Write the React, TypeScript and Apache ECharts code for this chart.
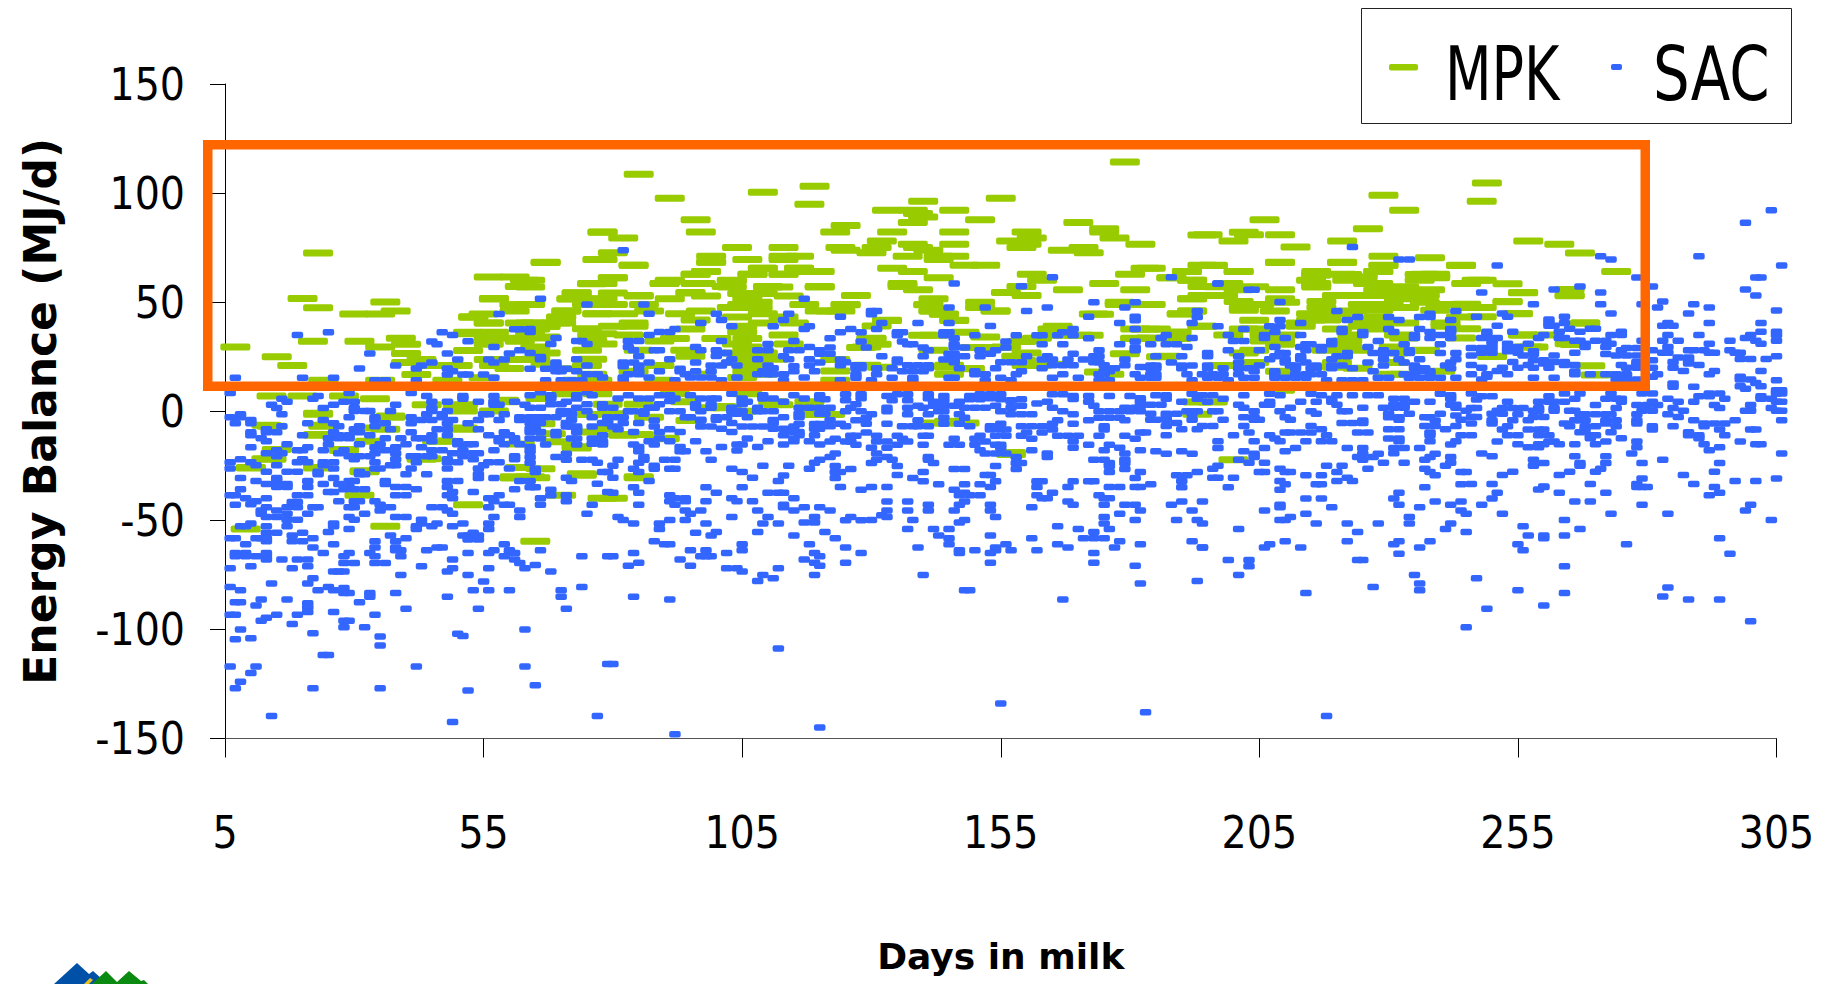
import React, { useEffect, useRef } from "react";
import * as echarts from "echarts";

const xTicks = [5, 55, 105, 155, 205, 255, 305];
const MPK_NAME = "MPK";
const SAC_NAME = "SAC";

const mpkLeft = [[20,51.7],[23,47.4],[36,50.1],[30,44.6],[35,44.6],[38,46],[57,51.7],[61,48.8],[61,46],[53,43.3],[55,44.6],[56,40.5],[62,40.5],[22,32.1],[31,32.1],[39,33.5],[35,29.4],[40,30.7],[7,29.4],[15,25],[18,21],[40,26.5],[52,27.8],[52,36.2],[57,36.2],[61,33.5],[56,33.5],[56,30.7],[62,32.1],[43,23.7],[40,22.3],[45,21],[50,21],[57,21],[60,19.6],[56,23.7],[42,16.8],[35,14.2],[24,14.2],[48,14.2],[55,15.4],[62,23.7],[14,7],[20,7],[28,7],[34,5.7],[44,3],[51,3],[59,4.3],[51,0.1],[23,-1.4],[57,0.1],[37,-2.8],[14,-6.9],[24,-6.9],[36,-8.3],[51,-8.3],[23,-11],[33,-13.8],[47,-13.8],[28,-18],[14,-22],[43,-22],[10,-26],[23,-26],[32,-27.7],[61,-30.6],[59,5],[23,72.5],[67,68.2],[56,61.5],[61,61.5],[63,60],[62,57.2],[78,82.1],[77,69.6],[76,58.4],[73,54.3],[72,51.5],[57,51.5],[61,48.8],[71,46],[70,43.1],[53,43.1],[56,40.4],[77,44.7],[75,51.5],[64,40.4],[67,38.8],[70,40.4],[52,35.5],[56,35.5],[75,37.8],[78,35.5],[64,35.5],[67,34],[23,-0.9],[37,-2.2],[50,2.2],[13,-6.4],[24,-6.4],[23,-10.7],[33,-7.7],[46,-13.6],[51,-7.7],[62,-15],[73,-16.3],[15,-17.5],[28,-17.5],[13,-21.8],[44,-21.8],[10,-25.8],[23,-25.8],[32,-27.3],[62,-25.8],[61,-30],[64,-30],[74,-28.7],[31,-38.5],[70,-38.5],[52,-42.8],[36,-52.7],[9,-54],[65,-59.6],[78,-39.9]];

const mpkMiddle = [[67,68.3],[84,66.9],[99,68.3],[109,65.5],[116,65.5],[98,64.1],[96,62.8],[107,62.8],[113,62.8],[118,64.1],[80,61.2],[91,59.7],[64,60],[76,58.5],[90,58.5],[97,58.5],[103,59.7],[103,57],[110,57],[120,57],[112,57],[64,57],[73,54.2],[80,54.2],[95,54.2],[105,54],[109,54],[72,51.6],[78,51.6],[85,52.8],[91,51.6],[98,52.8],[106,51.6],[114,52.8],[75,48.9],[80,48.9],[86,48.9],[105,48.9],[108,50],[117,48.9],[64,48.9],[71,46],[77,44.7],[82,44.7],[87,46],[93,44.7],[103,47.5],[108,47.5],[97,46],[120,46],[70,43.2],[65,40.5],[69,40.5],[84,40.5],[96,41.8],[104,43.2],[109,44.7],[113,43.2],[80,39],[84,39],[95,37.7],[65,37.7],[105,39],[109,40.5],[115,40.5],[76,35],[83,35],[92,33.4],[100,33.4],[105,36.3],[106,33.4],[113,35],[65,33.6],[76,32.2],[78,30.8],[89,32.2],[104,30.8],[106,29.4],[114,30.8],[67,26.7],[65,29.4],[75,28],[85,28],[94,28],[104,26.7],[109,26.7],[95,25.2],[76,23.8],[106,23.8],[111,23.8],[65,23.8],[67,21.5],[75,21],[89,21],[104,22.4],[107,21],[71,19.5],[84,18.3],[106,18.3],[109,17],[76,17],[89,14.2],[73,14.2],[77,14.2],[105,15.5],[97,17],[71,8],[77,8],[92,8],[106,8],[66,5.9],[118,4.4],[111,4.4],[85,3.2],[79,3.2],[94,4.4],[98,1.6],[102,1.6],[105,0],[75,-1.5],[119,-1.5],[66,-5.7],[80,-1.1],[87,-2.7],[95,-4.2],[78,-8],[75,-9.5],[68,-10.3],[82,-11],[90,-12.6],[69,-14],[73,-16.9],[66,-26.4],[74,-29.3],[85,-30.5],[65,-30.5],[80,-39.9],[85,-30],[82,-10.7],[85,-10.7],[90,-12.4],[101,2.2],[112,3],[119,-0.9]];

const mpkCentre = [[179,114.3],[85,108.6],[119,103.1],[109,100.4],[91,97.6],[118,94.9],[140,96.2],[155,97.6],[96,87.8],[133,92.1],[138,92.1],[139,90.6],[140,89],[146,92.1],[151,87.8],[138,86.5],[125,85.1],[170,86.5],[78,82.2],[82,79.4],[97,82.2],[123,82.2],[134,82.2],[146,82.2],[160,82.2],[161,79.4],[175,83.7],[175,82.2],[177,79.4],[194,80.8],[132,78],[157,78],[160,76.5],[182,76.5],[159,75.1],[104,75.1],[113,75.1],[124,75.1],[131,75.1],[138,76.5],[146,76.5],[125,73.8],[130,72.6],[139,75.1],[141,73.8],[167,73.8],[171,75.1],[172,72.6],[137,71],[143,71],[146,71],[99,71],[113,71],[116,71],[106,69.6],[99,68.3],[143,69.6],[113,69.6],[78,69.6],[80,72.6],[84,66.9],[109,65.5],[116,65.5],[134,65.5],[148,66.9],[152,66.9],[183,65.5],[194,66.9],[98,64.1],[120,64.1],[138,64.1],[191,64.1],[96,62.8],[107,62.8],[113,62.8],[161,62.8],[180,62.8],[80,61.2],[143,61.2],[91,60],[103,60],[163,60],[188,61.2],[192,60],[90,58.5],[96,58.5],[78,58.5],[102,57.2],[110,57.2],[120,57.2],[136,58.5],[136,57.2],[159,57.2],[175,58.5],[194,57.2],[139,55.7],[168,55.7],[181,55.7],[95,54.4],[156,54.4],[194,53],[127,53],[85,53],[142,51.6],[160,53],[151,50],[141,48.9],[125,48.9],[178,48.9],[183,48.9],[192,51.6],[122,46],[142,46],[154,46],[192,46],[173,44.6],[144,44.6],[190,44.6],[133,41.6],[146,41.6],[183,37.6],[166,39],[194,39],[140,34.8],[130,33.4],[152,34],[181,33.4],[189,33.4],[156,29.4],[160,32.4],[170,34.8],[129,29.4],[179,26.4],[186,25],[145,20.2],[160,21],[132,20.2],[149,19.5],[166,21.6],[159,23.3],[125,48.8],[124,46],[141,48.8],[142,46],[144,44.5],[151,47.5],[154,46],[174,44.5],[178,50],[133,41.7],[131,39.1],[146,41.7],[165,37.7],[142,34.8],[148,36.2],[166,34.8],[172,34.8],[181,37.7],[181,33.5],[130,33.5],[131,30.7],[128,29.2],[159,32],[162,33.5],[142,28],[150,29.2],[155,29.2],[160,26.7],[123,23.7],[158,25.2],[129,21.1],[145,21.1],[149,19.6],[162,21.1],[145,17],[174,18],[176,17],[123,18.5],[123,14.2],[145,-5.4],[142,-5.4],[148,-5.4],[157,-19.8],[122,-1.5],[145,-4.6],[157,-18.9]];

const mpkRight = [[184,65.5],[196,66.9],[209,68.3],[221,68.3],[229,66.9],[244,66.9],[191,64.1],[201,64.1],[216,62.8],[228,64.1],[188,61.2],[192,60],[215,60],[221,62.8],[222,60],[237,62.8],[239,62.8],[239,61.2],[216,58.5],[216,57],[236,60],[197,57.1],[199,58.5],[204,57.1],[228,58.5],[226,58.5],[233,57.1],[238,55.7],[209,55.7],[201,55.7],[195,53],[192,51.6],[198,53],[228,55.7],[228,53],[233,54.2],[225,53],[232,51.6],[220,53],[237,53],[237,50],[240,48.9],[209,51.6],[201,50.3],[210,50],[217,50.3],[217,47.5],[202,47.5],[202,46.3],[208,46],[205,48.9],[184,48.9],[225,48.9],[230,48.9],[228,46.3],[233,47.5],[239,46.3],[192,46],[190,44.7],[215,44.7],[220,44.7],[223,46],[228,43.2],[204,41.7],[215,41.8],[218,41.8],[233,40.5],[225,41.8],[228,40.5],[194,39],[213,39],[213,40.5],[220,37.7],[227,37.7],[185,37.7],[189,36.3],[225,39],[241,39],[244,43.2],[202,37.7],[204,37.7],[199,35],[189,33.6],[184,33.6],[206,35],[210,35],[223,35],[232,35],[241,40.5],[206,32.2],[209,32.2],[222,32.2],[233,33.6],[244,33.6],[202,26.7],[204,28],[218,28],[222,29.4],[224,28],[231,29.4],[237,28],[187,25.2],[231,26.7],[209,30.7],[198,21],[220,22.4],[220,20.2],[204,22.4],[231,22.4],[224,19.7],[209,18.3],[240,18.3],[230,17],[233,17],[209,9.6],[193,4.2],[196,4.2],[193,-1.4],[200,-22.2],[249,104.6],[229,99],[248,96.2],[233,92.1],[206,87.8],[226,83.7],[195,80.9],[202,82.1],[203,80.9],[209,80.9],[200,78],[221,78],[212,75.3],[257,78],[263,76.6],[267,72.5],[229,71.1],[238,70.4],[209,68.2],[221,68.2],[196,66.8],[229,66.8],[244,66.8],[274,64.1],[201,64.1],[216,64.1],[228,64.1],[216,62.3],[216,57.6],[222,62.7],[225,61.5],[236,62.7],[239,62.1],[247,60],[253,58.4],[256,54.3],[265,55.8],[265,52.9],[253,50.2],[255,44.7],[268,40.4],[256,34.9],[266,30.6],[257,29.4],[250,25.1],[269,20.8],[237,27.9],[271,16.9],[210,18],[256,54.4],[265,53],[253,50.3],[255,44.8],[268,40.5],[256,35],[261,35],[258,29.5],[265,30.9],[250,25.2],[270,16.6],[245,47.6],[248,47.6],[245,58.6],[248,60],[248,43.3],[245,37.8],[245,49]];

const sacLeftUpper = [[7,15.3],[19,34.9],[25,36.2],[20,15.3],[26,15.3],[31,19.6],[33,26.5],[34,14.2],[36,14.2],[38,21],[42,19.6],[43,21],[45,22.3],[42,14.2],[45,32],[46,30.7],[47,36.2],[49,34.9],[52,32.1],[48,26.5],[50,23.7],[48,19.6],[49,18.3],[48,16.8],[51,16.8],[52,16.8],[55,16.8],[57,15.3],[56,23.7],[57,22.3],[59,23.7],[60,26.5],[62,28],[58,44.6],[57,29.4],[61,37.6],[62,37.6],[6,8.4],[29,8.4],[41,8.4],[44,7],[23,7],[22,5.7],[16,5.7],[17,4.3],[28,4.3],[30,4.3],[14,3],[15,1.5],[26,3],[24,1.5],[30,1.5],[30,0.1],[32,0.1],[33,0.1],[38,3],[37,0.1],[16,-1.4],[8,-1.4],[6,-2.8],[8,-2.8],[7,-5.5],[10,-4],[10,-5.5],[24,-4],[29,-2.8],[34,-2.8],[34,-4],[21,-5.5],[26,-5.5],[27,-6.9],[16,-6.9],[31,-6.9],[30,-8.3],[34,-6.9],[36,-5.5],[41,-2.8],[41,-5.5],[44,-1.4],[47,-1.4],[43,-4],[45,-4],[47,-2.8],[49,-4],[48,-5.5],[54,-4],[52,-5.5],[55,-1.4],[56,-1.4],[59,-1.4],[58,-4],[62,-2.8],[62,-4],[57,7],[57,4.3],[58,3],[57,3],[54,4.3],[51,7],[51,5.7],[48,4.3],[45,4.3],[45,1.5],[45,0.1],[48,0.1],[61,4.3],[63,3]];

const sacLeftLower = [[13,-8.3],[13,-9.6],[15,-9.6],[10,-9.6],[10,-11],[12,-12.4],[13,-13.8],[20,-11],[26,-9.6],[25,-12.4],[27,-12.4],[27,-11],[29,-11],[29,-12.4],[31,-9.6],[33,-11],[36,-12.4],[39,-12.4],[42,-12.4],[43,-12.4],[45,-11],[45,-13.8],[48,-11],[37,-8.3],[41,-9.6],[46,-8.3],[48,-8.3],[54,-8.3],[56,-11],[59,-9.6],[58,-12.4],[60,-11],[61,-12.4],[10,-16.5],[17,-15.1],[21,-16.5],[19,-17.9],[20,-17.9],[15,-17.9],[13,-19.3],[15,-20.6],[16,-19.3],[25,-15.1],[24,-17.9],[28,-17.9],[27,-19.3],[31,-15.1],[34,-16.5],[35,-15.1],[36,-17.9],[38,-16.5],[38,-19.3],[38,-22],[34,-19.3],[33,-20.6],[31,-20.6],[29,-20.6],[30,-22],[40,-15.1],[43,-16.5],[45,-17.9],[47,-17.9],[42,-20.6],[44,-20.6],[45,-20.6],[41,-20.6],[50,-13.8],[50,-15.1],[52,-15.1],[53,-15.1],[51,-17.9],[49,-19.3],[51,-20.6],[53,-19.3],[54,-19.3],[53,-22],[57,-17.9],[58,-13.8],[59,-15.1],[61,-13.8],[62,-15.1],[6,-23.4],[6,-26.2],[8,-22],[10,-23.4],[11,-24.8],[15,-24.8],[19,-23.4],[20,-22],[21,-23.4],[24,-23.4],[26,-23.4],[26,-26.2],[24,-24.8],[34,-23.4],[34,-26.2],[35,-26.2],[38,-24.8],[37,-24.8],[42,-23.4],[41,-26.2],[48,-22],[48,-23.4],[48,-26.2],[50,-23.4],[54,-26.2],[54,-28.9],[54,-30.6],[61,-20.6],[61,-22],[56,-23.4],[55,-24.8],[58,-23.4],[60,-26.2],[13,-27.7],[17,-27.7],[19,-27.7],[23,-27.7],[23,-28.9],[31,-27.7],[31,-28.9],[32,-28.9],[40,-28.9],[44,-28.9],[8,-30.6],[11,-32],[15,-30.6],[15,-32],[13,-33.3],[15,-34.7],[17,-33.3],[17,-34.7],[21,-32],[21,-34.7],[24,-33.3],[26,-30.6],[27,-33.3],[29,-32],[30,-32],[29,-34.7],[36,-32],[36,-33.3],[38,-34.7],[40,-34.7],[48,-32],[50,-32],[48,-34.7],[57,-30.6],[62,-32],[8,-35.8],[28,-35.8],[30,-35.8],[32,-35.8],[42,-35.8],[61,-35.8]];

const sacMiddleUpper = [[66,51.6],[75,48.9],[86,48.9],[87,44.7],[100,44.7],[114,44.7],[117,51.6],[97,40.5],[101,41.8],[103,39],[113,41.8],[111,39],[117,37.7],[118,39],[64,37.7],[64,36.3],[92,37.7],[91,36.3],[89,36.3],[87,35],[69,33.6],[68,30.8],[73,32.2],[74,32.2],[75,30.8],[83,32.2],[85,32.2],[83,29.4],[84,28],[88,28],[89,28],[96,29.4],[97,28],[100,28],[101,26.7],[102,26.7],[100,25.3],[101,32.2],[110,30.8],[115,32.2],[108,28],[110,28],[114,28],[116,28],[118,29.4],[120,28],[120,26.4],[85,25.2],[66,24.9],[66,23.8],[64,26.7],[73,23.8],[91,23.8],[103,23.8],[108,23.8],[113,25.2],[114,23.8],[96,22.4],[82,22.4],[82,20.6],[84,22.4],[85,21],[85,20.6],[87,22.4],[69,22.4],[69,21],[75,21],[99,21],[101,21],[104,21],[102,22.4],[110,21],[111,19.7],[118,23.8],[120,22.4],[118,21],[119,18.3],[115,20.6],[115,18.3],[64,19.5],[67,19.5],[71,19.5],[73,18.3],[69,18.3],[70,18.3],[85,18.3],[89,18.3],[93,19.5],[93,18.3],[96,18.3],[99,18.3],[109,18.3],[111,17],[75,17],[77,17],[78,15.5],[83,17],[82,15.5],[85,17],[87,15.5],[94,17],[95,15.5],[97,15.5],[99,15.5],[104,15.5],[108,17],[110,17],[113,17],[117,15.5],[67,14.2],[70,14.2],[72,14.2],[74,14.2],[82,14.2],[92,14.2],[101,14.2],[113,14.2],[82,73.8]];

const sacMiddleBand = [[64,7.3],[66,8.7],[68,7.3],[68,5.9],[73,7.3],[73,5.9],[75,8.7],[76,7.3],[81,5.9],[83,7.3],[85,5.9],[87,5.9],[89,7.3],[91,7.3],[91,4.7],[92,5.9],[95,7.3],[97,5.9],[99,5.9],[100,5.9],[105,5.9],[105,4.7],[103,8],[109,7.3],[109,5.9],[111,5.9],[113,4.4],[115,7.3],[117,5.9],[120,7.3],[120,5.9],[68,3.2],[70,3.2],[71,4.4],[66,1.6],[64,1.6],[73,1.6],[75,3.2],[75,0],[78,3.2],[78,1.6],[80,1.6],[84,0],[86,0],[87,1.6],[89,3.2],[91,0],[93,0],[96,3.2],[96,1.6],[99,3.2],[99,1.6],[97,0],[103,1.6],[105,3.2],[106,4.4],[103,0],[105,0],[108,1.6],[111,0],[109,0],[116,1.6],[118,1.6],[120,1.6],[71,0],[70,0],[72,-1.3],[70,-1.3],[67,-2.7],[66,-2.7],[64,-2.7],[65,-2.7],[69,-2.7],[72,-3.9],[76,-2.7],[79,-2.7],[79,-3.9],[81,-2.7],[82,-2.7],[83,0],[86,-1.1],[88,1.6],[94,-2.7],[95,-2.7],[97,-3.9],[100,-2.7],[100,-3.9],[102,-2.7],[106,-2.7],[104,-1.1],[108,0],[113,-2.7],[116,-1.1],[116,-2.7],[120,-1.1],[66,-5.4],[64,-5.4],[71,-5.4],[72,-7],[71,-7],[73,-7],[76,-7],[78,-5.4],[79,-5.4],[80,-7],[82,-5.4],[85,-5.4],[88,-4.2],[88,-7],[97,-4.2],[97,-7],[99,-7],[101,-8],[103,-5.4],[103,-9.5],[105,-7],[107,-7],[109,-7],[111,-4],[111,-5.4],[111,-8],[113,-8],[115,-7],[116,-5.8],[119,-5.8],[120,-5.8],[119,-8],[120,-8]];

const sacMiddleLower = [[64,-8],[65,-8],[64,-9.5],[66,-9.5],[64,-12.5],[66,-12.5],[69,-9.5],[69,-11],[73,-8],[73,-9.5],[72,-12.5],[73,-12.5],[78,-11],[81,-8.3],[84,-9.5],[89,-9.5],[91,-8.3],[93,-9.5],[89,-12.5],[91,-13.8],[76,-12.5],[78,-13.8],[76,-14.9],[78,-15.2],[73,-15.2],[67,-15.2],[84,-15.2],[85,-16.4],[87,-13.8],[88,-15.2],[96,-13.8],[106,-12.5],[104,-15.2],[105,-15.2],[110,-13.8],[113,-15.2],[113,-11],[114,-9.5],[116,-9.5],[116,-11],[119,-11],[115,-12.5],[115,-13.8],[118,-13.8],[120,-15.2],[64,-16.4],[64,-18.3],[93,-16.4],[93,-18.3],[94,-18.3],[98,-18.3],[101,-16.4],[104,-18],[108,-16.4],[85,-18.3],[71,-19.5],[69,-21],[71,-22.2],[64,-21],[74,-22.2],[76,-22.2],[77,-23.6],[81,-22.2],[86,-21],[86,-22.2],[85,-23.6],[90,-22.2],[92,-22.2],[99,-22.2],[120,-22.2],[119,-23.6],[64,-23.6],[65,-26.4],[65,-27.8],[80,-25],[84,-26.4],[85,-27.8],[88,-25],[88,-26.4],[91,-26.4],[92,-26.4],[103,-26.4],[105,-27.8],[109,-25],[114,-25],[118,-26.4],[113,-29.4],[107,-30.5],[112,-32],[78,-27.8],[79,-27.8],[80,-30.5],[71,-30.5],[72,-32],[77,-33.2],[87,-32],[64,-32],[65,-34.8],[64,-34.8],[84,-34.8],[98,-34.8],[105,-34.8],[68,-36]];

const sacCentreUpper = [[124,43.3],[130,46],[131,46],[130,44.5],[145,47.5],[152,47.5],[160,46],[164,47.5],[173,50],[179,47.5],[181,50],[172,43.3],[181,43.3],[181,41.7],[132,40.5],[139,40.5],[145,40.5],[178,40.5],[131,37.7],[126,37.7],[124,36.2],[128,36.2],[153,39.1],[169,37.7],[181,37.7],[136,36.2],[135,36.2],[135,34.8],[144,36.2],[145,36.2],[144,34.8],[150,34.8],[158,34.8],[162,34.8],[163,34.8],[166,34.8],[167,36.2],[169,34.8],[172,33.5],[122,33.5],[128,32],[146,33.5],[146,30.7],[146,29.2],[136,32],[137,30.7],[138,30.7],[129,29.2],[156,32],[156,29.2],[163,30.7],[167,30.7],[178,30.7],[181,32],[181,29.2],[181,28],[122,29.2],[140,29.2],[141,28],[148,29.2],[151,28],[151,25.2],[154,28],[153,26.4],[174,28],[169,26.4],[145,26.4],[146,26.4],[122,26.4],[140,25.2],[132,25.2],[148,25.2],[160,25.2],[164,25.2],[124,23.7],[125,22.5],[124,21.1],[144,23.7],[146,23.7],[146,22.5],[135,23.7],[135,22.5],[155,22.5],[157,22.5],[159,22.5],[163,23.7],[165,23.7],[168,23.7],[171,23.7],[173,25.2],[174,25.2],[179,23.7],[173,22.5],[174,22.5],[179,21.1],[182,20.3],[127,21.1],[128,21.1],[127,19.7],[128,19.7],[137,21.1],[139,21.1],[141,21.1],[141,19.7],[131,19.7],[134,19.7],[136,18.3],[138,18.3],[140,18.3],[147,19.7],[154,19.7],[163,19.7],[165,21.1],[167,21.1],[169,21.1],[175,21.1],[177,19.7],[150,18.3],[150,17],[152,17],[159,18.3],[158,17],[176,18.3],[175,18.3],[174,17],[127,17],[127,15.4],[131,17],[134,15.4],[138,15.4],[145,15.4],[146,15.4],[155,15.4],[157,14.2],[165,15.4],[167,17],[170,15.4],[175,17],[181,17],[182,15.4],[124,14.2],[130,14.2],[138,14.2],[152,14.2],[174,14.2],[176,14.2],[146,58.6],[165,61.4],[159,57.3]];

const sacCentreBand = [[125,7.8],[128,7.8],[133,7],[135,7.8],[137,7.8],[141,7.8],[144,7],[149,7],[151,7.8],[153,7.8],[155,7.8],[125,5],[128,6],[134,5],[137,5],[141,6],[144,5],[149,5.5],[151,5.5],[153,6],[155,5.5],[157,5],[159,5.5],[165,7.8],[167,7.8],[169,7],[172,7],[176,7],[180,7],[182,6],[121,5.5],[127,3.2],[126,1.6],[128,0],[125,0],[133,1.6],[133,0],[137,1.6],[139,2.5],[140,1.6],[142,4.4],[142,2.5],[144,2.5],[146,2.5],[147,4.4],[148,1.6],[150,1.6],[152,1.6],[154,2.5],[157,4.4],[157,1.6],[159,2.5],[162,3.5],[164,4.4],[165,1.6],[169,5.6],[172,4.4],[173,2.5],[179,1.6],[181,1.6],[182,2.5],[182,4.4],[122,1.6],[121,-1.1],[137,-1.4],[141,-1.4],[143,0],[144,0],[144,-3],[147,-1.4],[148,-3],[155,0],[157,-1.4],[159,-1.4],[161,-1.4],[167,0],[169,-1.4],[174,0],[176,0],[178,0],[180,0],[182,0],[172,-4.1],[174,-3],[176,-3],[178,-3],[179,-4.1],[166,-4.1],[169,-5.7],[130,-1.4],[129,-3],[127,-4.1],[129,-5.7],[122,-4.1],[122,-6.9],[124,-5.7],[125,-6.9],[133,-5.7],[136,-6.9],[138,-6.9],[139,-4.1],[139,-6.9],[141,-6.9],[144,-5.7],[147,-5.7],[149,-6.9],[153,-6.9],[155,-5.7],[153,-8.4],[155,-8.4],[156,-8.4],[159,-6.9],[161,-6.9],[163,-6.9],[165,-5.7],[165,-8.4],[163,-9.7],[175,-6.9],[175,-8.4],[129,-9.7],[182,-9.7]];

const sacCentreLower = [[122,-13.9],[123,-12.6],[126,-11.2],[127,-11.2],[126,-13.9],[125,-13.9],[131,-11.2],[131,-13.9],[133,-13.9],[135,-11.2],[136,-12.6],[137,-13.9],[140,-11.2],[141,-11.2],[146,-12.6],[151,-11.2],[150,-12.6],[152,-13.9],[154,-11.2],[156,-11.2],[159,-11.2],[160,-9.7],[161,-12.6],[166,-11.2],[168,-11.2],[170,-11.2],[174,-11.2],[179,-11.2],[181,-12.6],[169,-13.9],[127,-15.3],[130,-16.7],[133,-16.7],[135,-15.3],[140,-15.3],[145,-15.3],[147,-15.3],[150,-15.3],[154,-15.3],[155,-15.3],[155,-16.7],[169,-16.7],[172,-15.3],[176,-15.3],[178,-16.7],[151,-17.9],[152,-19.4],[154,-19.4],[156,-19.4],[161,-17.9],[164,-19.4],[164,-21],[175,-17.9],[182,-17.9],[123,-19.4],[122,-21],[131,-19.4],[133,-21],[134,-22.2],[131,-22.2],[130,-23.7],[141,-21],[141,-22.2],[142,-23.7],[158,-21],[158,-23.7],[159,-23.7],[158,-26.5],[173,-22.2],[175,-22.2],[176,-23.7],[176,-25.1],[176,-27.8],[179,-19.4],[179,-22.2],[179,-23.7],[179,-26.5],[182,-27.8],[123,-25.1],[123,-27.8],[124,-27.8],[126,-26.5],[123,-30.6],[135,-25.1],[135,-29.2],[138,-30.6],[140,-27.8],[140,-32.1],[146,-26.5],[148,-26.5],[154,-25.1],[152,-29.2],[153,-29.2],[154,-32.1],[181,-30.6],[124,-34.7],[130,-34.7],[133,-34.7],[128,-36],[143,-33.5],[148,-33.5],[151,-33.5],[153,-34.7],[162,-32.1],[163,-32.1],[162,-34.7],[169,-32.1],[172,-32.1],[173,-32.1],[168,-34.7],[176,-34.7],[178,-34.7],[181,-34.7],[182,-34.7],[146,-36]];

const sacRightUpper = [[188,61.4],[197,58.5],[203,55.7],[204,55.7],[209,50.1],[220,46],[243,46],[193,46],[193,43.2],[192,40.5],[197,39],[209,41.8],[209,39],[207,39],[213,40.5],[222,41.8],[224,43.2],[230,43.2],[232,41.8],[236,43.2],[238,44.7],[238,43.2],[242,41.8],[202,37.7],[208,36.3],[206,35],[206,33.6],[210,33.6],[213,35],[221,37.7],[221,36.3],[225,36.3],[225,35],[230,37.7],[231,36.3],[236,37.7],[238,36.3],[242,37.7],[242,36.3],[187,35],[186,33.6],[192,33.6],[199,35],[200,32.2],[202,32.2],[228,32.2],[235,35],[235,33.6],[238,33.6],[240,35],[242,33.6],[184,30.7],[187,30.7],[189,30.7],[191,29.4],[219,32.2],[219,30.7],[214,30.7],[215,30.7],[213,29.4],[217,29.4],[217,28],[226,29.4],[233,30.7],[240,30.7],[199,28],[205,28],[208,29.4],[214,28],[234,28],[234,26.7],[195,26.7],[195,25.2],[201,25.2],[209,26.7],[210,26.7],[222,26.7],[222,25.2],[227,26.7],[229,28],[229,26],[185,25.2],[190,25.2],[208,25.2],[207,23.8],[210,23.8],[213,25.2],[213,23.8],[220,25.2],[219,23.8],[231,26.7],[240,26.7],[243,26.7],[188,22.4],[201,22.4],[210,22.4],[211,21],[214,22.4],[226,22.4],[229,23.8],[229,21],[232,23.8],[233,22.4],[236,23.8],[241,21],[242,22.4],[243,23.8],[184,21],[185,21],[184,19.7],[185,19.7],[190,21],[192,21],[190,19.7],[195,21],[195,19.7],[198,19.7],[201,19.7],[203,19.7],[205,21],[212,21],[212,19.7],[216,21],[215,19.7],[216,19.7],[219,21],[219,19.7],[221,21],[223,19.7],[235,21],[235,19.7],[236,19.7],[237,19.7],[242,19.7],[184,17],[185,17],[191,17],[194,17],[196,17],[198,17],[201,17],[204,18.3],[208,18.3],[208,17],[212,17],[214,17],[215,17],[217,17],[227,18.3],[233,17],[235,17],[236,18.3],[238,18.3],[238,17],[184,15.4],[185,15.4],[192,14.2],[195,15.4],[197,15.4],[199,14.2],[202,15.4],[204,15.4],[208,15.4],[210,15.4],[212,15.4],[214,15.4],[218,14.2],[221,14.2],[223,14.2],[225,14.2],[228,15.4],[230,15.4],[234,15.4],[236,15.4],[238,15.4],[240,15.4],[243,15.4],[223,75.3],[234,69.6],[232,69.6],[197,58.5]];

const sacRightBand = [[185,7.3],[187,7.3],[192,8],[194,7.3],[196,7.3],[202,7.3],[207,8],[209,7.3],[215,8],[217,7.3],[220,7.3],[223,7.3],[226,7.3],[228,7.3],[240,8],[242,7.3],[242,5.7],[187,5.7],[193,5.7],[198,5.7],[219,5.7],[190,4.4],[195,4.4],[207,4.4],[213,4.4],[216,4.4],[219,4.4],[231,5.7],[233,5.7],[235,4.4],[238,4.4],[243,3],[184,3],[186,3],[201,3],[206,3],[207,3],[220,3],[231,3],[233,3],[242,3],[202,1.6],[211,1.6],[225,1.6],[229,1.6],[231,1.6],[233,1.6],[243,1.6],[191,0],[193,0],[196,0],[197,0],[204,0],[209,0],[215,0],[221,0],[222,0],[184,-1.1],[187,-1.1],[189,-1.1],[192,0],[192,-1.1],[230,-1.1],[232,-2.7],[234,-1.1],[240,-1.1],[243,-1.9],[184,-3.9],[185,-3.9],[187,-2.7],[187,-3.9],[192,-3.9],[198,-3.9],[202,-2.7],[204,-2.7],[204,-3.9],[205,-3.9],[210,-2.7],[211,-3.9],[216,-1.1],[230,-2.7],[232,-3.9],[237,-2.7],[238,-2.7],[239,-4.2],[244,-3.9],[189,-5.4],[187,-6.8],[194,-6.8],[196,-6.8],[202,-6.8],[221,-5.4],[223,-5.4],[225,-4.2],[225,-5.4],[237,-6.8],[239,-6.8],[243,-6.8],[190,-8.2],[193,-8.2],[215,-6.8],[217,-8.2],[230,-8.2],[232,-8.2],[241,-8.2]];

const sacRightLower = [[183,-9.7],[187,-11],[200,-11],[203,-9.7],[207,-11],[210,-9.7],[211,-9.7],[213,-9.7],[215,-9.7],[218,-11],[224,-9.7],[226,-9.7],[238,-9.7],[238,-11],[244,-11],[197,-13.8],[197,-16.8],[204,-13.8],[208,-12.5],[209,-13.8],[214,-13.8],[217,-13.8],[219,-13.8],[230,-12.5],[232,-12.5],[232,-13.8],[238,-13.8],[242,-15.2],[243,-13.8],[206,-16.8],[212,-16.8],[222,-16.8],[225,-16.8],[231,-16.8],[233,-16.8],[236,-16.8],[185,-18.3],[187,-19.5],[190,-18.3],[192,-19.5],[202,-18.3],[204,-19.5],[204,-21],[210,-18.3],[231,-19.2],[239,-19.5],[238,-21],[237,-22.2],[224,-21],[225,-19.5],[225,-22.2],[227,-21],[228,-19.5],[229,-23.6],[233,-23.6],[242,-21],[242,-23.6],[241,-25],[201,-22.2],[203,-23.6],[206,-23.6],[197,-25],[196,-26.4],[218,-25],[221,-25],[226,-26.4],[237,-26.4],[238,-27.8],[239,-29.3],[193,-27.8],[205,-27.8],[206,-27.8],[209,-26.4],[210,-27.8],[211,-27.8],[220,-27.8],[244,-27.8],[189,-29.3],[191,-29.3],[214,-29.3],[217,-29.3],[196,-30.5],[197,-30.5],[200,-30.5],[222,-30.5],[223,-32],[220,-32],[190,-32],[190,-34.8],[184,-33.5],[199,-34.8],[209,-32],[210,-33.5],[209,-36],[216,-33.5],[217,-33.5],[237,-34.8],[244,-33.5]];

const sacFarRightUpper = [[262,55.8],[267,57.2],[271,54.4],[248,54.4],[299,55.8],[301,53],[281,57.2],[283,50.3],[289,49],[292,47.6],[288,44.8],[305,46.2],[282,47.6],[258,49],[271,49],[279,49],[273,44.8],[252,44.8],[253,43.3],[247,43.3],[292,40.5],[302,40.5],[264,43.3],[261,42],[261,40.5],[264,40.5],[261,39.2],[262,39.2],[251,39.2],[283,39.2],[284,40.5],[285,39.2],[254,36.4],[249,36.4],[263,36.4],[265,37.8],[267,36.4],[269,37.8],[270,37.8],[273,35],[275,36.4],[275,35],[260,35],[259,33.6],[263,33.6],[264,33.6],[249,35],[251,33.6],[248,33.6],[284,35],[290,35],[300,35],[299,33.6],[301,32.3],[302,30.9],[302,36.4],[305,36.4],[305,35],[305,32.3],[266,32.3],[267,32.3],[268,30.9],[268,29.5],[270,32.3],[272,32.3],[273,30.9],[279,32.3],[283,32.3],[286,32.3],[296,32.3],[292,30.9],[250,32.3],[250,30.9],[253,30.9],[257,30.9],[246,29],[248,29],[250,29],[253,29],[255,29.5],[253,27.5],[255,26.8],[258,27.5],[258,26.2],[272,29.5],[272,26.2],[275,28],[276,29],[278,29],[284,29.5],[283,26.8],[284,26.8],[288,28],[289,28],[291,28],[292,26.8],[293,26.8],[296,28],[297,26.8],[298,26.8],[266,26.8],[281,28],[304,92.1],[299,86.4],[290,71.1],[306,66.8],[301,61.3],[302,61.3],[278,61.3],[273,69.6],[271,71.1],[251,66.8]];

const sacFarRightBand = [[246,25.5],[248,26.8],[250,26.8],[256,25.5],[258,23.4],[262,25.5],[260,23.4],[274,25.5],[276,25.5],[278,25.5],[281,23.4],[286,24.6],[288,24.6],[288,23.4],[298,24],[300,24],[303,24],[305,25.2],[254,22.6],[262,22.6],[260,21.9],[264,22.6],[264,21.2],[278,22.6],[278,21.2],[285,22.6],[288,21.9],[290,21.2],[246,21.2],[257,21.2],[258,19.9],[261,19.9],[255,19.9],[266,21.2],[266,18.2],[248,19.9],[252,19.9],[251,18.5],[275,21.2],[276,19.9],[278,19.9],[281,19.9],[285,19.9],[293,18.5],[292,17],[287,18.5],[302,18.5],[282,17],[281,15.8],[246,17],[249,17],[249,15.8],[253,17],[269,17],[272,17],[274,17],[276,17],[258,15.4],[262,15.4],[274,14.5],[276,14.5],[278,14.5],[266,17],[248,14.5],[298,15.8],[300,14.5],[298,14.5],[301,13],[302,11.5],[305,14.2],[298,11.5],[299,10.3],[285,12.7],[285,11.2],[289,11.2],[305,9.6],[306,9.6],[305,8.1],[306,8.1],[279,8.1],[281,8.1],[246,8.1],[248,6.9],[250,6.9],[261,6.9],[264,8.1],[267,8.1],[273,8.1],[292,8.1],[294,8.1],[290,6.9],[292,6.9],[247,5.4],[261,4.3],[266,5.7],[272,5.7],[274,5.7],[275,5.7],[284,5.7],[286,4.3],[289,4.3],[295,5.7],[302,6.9],[302,5.7],[304,5.7],[305,4.3],[306,4.3],[253,4.3],[259,4.3],[262,4.3],[264,4.3],[246,1.5],[247,1.5],[252,1.5],[254,1.5],[256,1.5],[259,1.5],[262,1.5],[262,0.2],[270,2.9],[274,1.5],[275,4.3],[278,2.9],[280,2.9],[282,2.9],[281,4.3],[285,1.5],[293,2.9],[294,1.5],[300,2.9],[300,0.2],[299,0.2],[304,1.5]];

const sacFarRightLower = [[250,-1.1],[251,0.2],[252,-1.1],[255,-1.4],[258,0.2],[259,0.2],[258,-2.6],[260,-2.6],[265,0.2],[266,0.2],[267,-1.4],[268,-1.4],[270,-1.4],[272,-1.4],[273,-1.4],[278,-1.4],[279,0.2],[281,0.2],[284,-1.4],[287,0.2],[286,-2.6],[305,0.2],[306,0.2],[245,0.2],[246,-2.6],[247,-2.6],[250,-4.1],[250,-5.6],[254,-4.1],[257,-4.1],[266,-4.1],[267,-4.1],[268,-4.1],[272,-4.1],[272,-5.6],[274,-4.1],[274,-6.9],[278,-4.1],[278,-5.6],[289,-4.1],[291,-5.6],[291,-6.9],[293,-5.6],[295,-5.6],[297,-4.1],[306,-4.1],[285,-6.9],[281,-6.9],[281,-8.4],[246,-5.6],[253,-6.9],[264,-5.6],[265,-6.9],[270,-6.9],[268,-6.9],[252,-8.4],[257,-8.4],[259,-8.4],[260,-8.4],[268,-8.4],[267,-9.6],[294,-8.4],[300,-8.4],[301,-8.4],[288,-9.6],[273,-9.6],[246,-11],[253,-11],[255,-11],[259,-11],[261,-11],[269,-11],[270,-11],[269,-12.4],[288,-11],[290,-11],[290,-12.4],[295,-11],[275,-12.4],[251,-13.9],[261,-13.9],[262,-13.9],[255,-15.1],[257,-16.5],[259,-15.1],[259,-16.5],[260,-15.1],[263,-15.1],[266,-15.1],[270,-15.1],[272,-13.9],[278,-13.9],[278,-16.5],[291,-15.1],[292,-17.9],[294,-16.5],[298,-13.9],[301,-15.1],[302,-15.1],[248,-19.4],[250,-20.6],[266,-20.6],[272,-20.6],[277,-19.4],[306,-19.4],[283,-22.2],[258,-22.2],[258,-25],[260,-23.7],[267,-23.7],[267,-25],[272,-23.7],[279,-23.7],[294,-23.7],[271,-26.4],[270,-27.7],[265,-27.7],[263,-29.2],[254,-27.7],[252,-29.2],[287,-29.2],[293,-27.7],[279,-30.8],[305,-30.8],[297,-32],[301,-32],[246,-33.3],[250,-33.3],[269,-33.3],[289,-33.3],[278,-33.3],[278,-34.7],[279,-34.7],[280,-34.7],[260,-34.7],[293,-34.7],[245,-27.8]];

const sacBottomLeft = [[14,-139.7],[49,-142.4],[77,-139.7],[6,-117],[42,-117],[63,-117],[11,-117],[10,-120],[8,-124],[7,-127],[22,-127],[35,-127],[52,-128],[65,-125.6],[79,-115.8],[24,-111.7],[25,-111.7],[35,-107.4],[35,-103.3],[50,-102],[51,-103],[63,-100],[22,-101.7],[8,-100],[7,-104.5],[10,-104],[32,-99],[28,-99],[28,-96],[29,-96],[18,-97.5],[12,-96],[13,-94.7],[15,-93.3],[19,-93.3],[6,-93.3],[7,-93.3],[26,-92],[34,-93.3],[21,-88],[21,-90],[21,-92],[40,-90.5],[54,-90.5],[71,-90.5],[11,-89],[7,-87.6],[8,-87.6],[12,-86.3],[17,-86.3],[31,-87.6],[33,-83.3],[33,-85],[48,-85],[70,-85],[70,-82],[74,-80.6],[38,-83.3],[6,-80.6],[8,-82],[14,-79],[21,-79],[23,-82],[25,-80.6],[26,-82],[28,-81],[28,-83.3],[29,-83.3],[53,-82],[56,-82],[60,-82],[55,-78],[22,-76.5]];

const sacLowLeft = [[6,-38.5],[7,-38.5],[9,-39.9],[11,-41.2],[10,-42.6],[13,-39.9],[7,-42.8],[19,-38.5],[21,-38.5],[25,-37],[26,-37],[38,-38.5],[40,-38.5],[48,-38.5],[49,-37],[49,-39.9],[53,-37],[56,-39.9],[57,-41.2],[58,-38.5],[59,-42.8],[60,-42.8],[62,-45.5],[62,-48.5],[66,-39.9],[66,-42.8],[71,-38.5],[71,-41.2],[68,-38.5],[76,-42.8],[75,-47],[79,-37],[56,-44],[57,-48.5],[56,-51.4],[56,-54],[51,-51.4],[52,-57],[49,-52.7],[52,-58.8],[54,-58.8],[54,-57],[53,-55.7],[51,-57],[13,-44],[15,-45.5],[12,-45.5],[12,-47],[13,-48.5],[15,-48.5],[17,-44],[19,-44],[17,-47],[17,-49.7],[19,-49.7],[18,-41.6],[19,-41.6],[21,-47],[22,-44],[23,-44],[27,-41.2],[29,-48.5],[29,-44],[30,-49.7],[32,-47],[30,-44],[30,-41.2],[31,-41.2],[34,-41.2],[35,-42.8],[35,-45.5],[37,-44],[38,-48.5],[40,-48.5],[43,-49.7],[43,-51.4],[42,-52.7],[45,-44],[47,-44],[48,-45.5],[49,-47],[46,-51.4],[45,-52.7],[8,-52.7],[9,-52.7],[10,-51.4],[7,-58.2],[6,-58.2],[9,-61],[13,-52.7],[13,-55.7],[15,-55.7],[11,-58.2],[13,-58.2],[12,-58.2],[13,-59.6],[17,-52.7],[25,-55.3],[26,-51.4],[26,-52.7],[29,-54],[18,-57],[20,-55.7],[18,-59.6],[20,-59.6],[22,-58.2],[22,-62.4],[26,-61],[37,-57],[40,-58.2],[34,-59.6],[34,-62.4],[38,-59.6],[38,-62.4],[39,-63.7],[42,-54],[44,-63.7],[46,-62.4],[47,-62.4],[7,-65],[9,-65],[7,-66.5],[9,-66.5],[11,-66.5],[13,-65],[13,-66.5],[13,-68],[16,-68],[19,-68],[21,-68],[21,-71],[24,-65],[28,-66.5],[29,-65],[28,-69.5],[30,-69.5],[33,-65],[34,-66.5],[34,-69.5],[36,-69.5],[38,-63.7],[39,-66.5],[52,-65],[56,-65],[57,-63.7],[59,-66.5],[60,-65],[61,-65],[61,-68],[62,-69.5],[63,-72],[65,-70.5],[59,-61],[60,-63.7],[66,-63.7],[74,-66.5],[79,-66.5],[6,-72],[10,-71],[18,-72],[26,-73.5],[27,-73.5],[28,-73.5],[39,-75],[43,-71],[48,-73.5],[49,-72],[52,-75],[56,-72],[49,-68],[68,-73.5]];

const sacLowCentre = [[80,-37.3],[85,-37.3],[91,-38.5],[92,-39.9],[94,-39.9],[91,-41.2],[92,-42.8],[94,-41.2],[85,-42.8],[98,-41.2],[103,-39.9],[104,-41.2],[107,-41.2],[100,-37.3],[110,-37.3],[112,-37.3],[113,-37.3],[115,-39.9],[113,-42.8],[113,-44],[115,-45.5],[117,-44],[120,-44],[122,-45.5],[119,-48.5],[119,-51],[117,-51],[112,-51.4],[110,-48.5],[108,-45.5],[109,-51.4],[94,-45.5],[95,-47],[97,-45.5],[94,-49.8],[91,-49.8],[98,-51.4],[103,-48.5],[89,-51.4],[89,-54],[81,-48.5],[82,-49.8],[84,-51.4],[96,-55.7],[100,-55.3],[99,-57],[108,-55.3],[115,-57],[121,-55.3],[123,-58.2],[125,-62.4],[128,-65],[125,-69.4],[88,-59.6],[90,-61],[91,-61],[95,-63.7],[98,-63.7],[102,-65],[105,-61],[105,-63.7],[118,-61],[119,-65],[120,-66.5],[84,-65],[80,-66.5],[85,-69.4],[83,-70.8],[93,-67.9],[95,-70.8],[97,-66.5],[99,-66.5],[98,-66.5],[102,-72],[104,-72],[105,-73.5],[112,-72],[109,-75],[111,-76.5],[108,-77.8],[119,-75],[117,-67.9],[119,-69.4],[120,-70.8],[84,-85],[91,-86.3],[80,-115.8],[112,-108.7],[92,-148],[120,-145],[130,-49.8],[132,-47.7],[133,-48.5],[138,-49.8],[137,-54],[133,-41.4],[137,-41.4],[137,-45.5],[133,-45.5],[141,-42.8],[141,-45.5],[146,-45.5],[148,-41.4],[147,-42.8],[148,-37.3],[147,-38.5],[149,-38.5],[151,-38.5],[153,-42.8],[153,-45.5],[154,-48.5],[153,-57],[154,-62.4],[154,-63.7],[153,-65],[153,-69.4],[125,-50],[128,-50],[126,-48.5],[142,-54],[143,-57],[145,-54],[147,-51],[148,-49.8],[145,-58.2],[145,-61],[147,-63.7],[147,-65],[150,-63.7],[156,-61],[157,-63.7],[162,-63.7],[161,-58.2],[139,-62.4],[140,-75],[148,-82],[149,-82],[167,-86.3],[155,-134],[183,-138],[161,-44],[165,-37.3],[162,-38.5],[163,-39.9],[164,-39.9],[166,-52.7],[170,-54],[171,-58.2],[173,-58.2],[175,-58.2],[173,-55.3],[176,-54],[175,-51.4],[175,-48.5],[168,-41.4],[169,-42.8],[174,-38.5],[175,-39.9],[176,-39.9],[175,-42.8],[178,-47],[179,-42.8],[181,-42.8],[182,-45.5],[181,-49.8],[178,-59.6],[177,-62.4],[182,-61],[173,-65],[173,-69.4],[166,-61],[168,-62.4],[181,-70.8],[182,-79],[193,-77.8],[188,-42.8],[190,-41.4],[194,-41.4],[192,-45.5],[189,-49.8],[193,-49.8],[194,-51.4],[192,-59.6],[194,-62.4]];

const sacLowRight = [[214,-40],[217,-40],[219,-44],[206,-45.5],[209,-42.8],[209,-44],[211,-48.5],[214,-47],[216,-51.4],[210,-49.8],[209,-49.8],[222,-51.4],[228,-51.4],[224,-55.3],[222,-59.6],[201,-54],[231,-40],[232,-42.8],[232,-37.3],[239,-41.4],[236,-44],[234,-48.5],[234,-51.4],[242,-51.4],[241,-54],[242,-42.8],[244,-41.4],[244,-45.5],[245,-47],[248,-42.8],[250,-40],[251,-37.3],[252,-47],[256,-52.7],[257,-57],[260,-57],[260,-58.2],[264,-49.8],[264,-57],[267,-54],[255,-61],[256,-63.7],[266,-41.4],[269,-41.4],[273,-47],[284,-47],[279,-42.8],[272,-37.3],[263,-37.3],[260,-34.5],[259,-35.9],[276,-61],[294,-58.2],[296,-65.3],[304,-49.8],[300,-42.8],[299,-45.5],[294,-37.3],[292,-38.5],[264,-71],[245,-55.3],[238,-59.6],[232,-59.6],[231,-61],[236,-62.4],[232,-65.3],[225,-68.2],[224,-68.2],[227,-80.6],[213,-62.4],[210,-59.6],[207,-61],[206,-62.4],[194,-62.4],[199,-68.2],[203,-68.2],[203,-71],[201,-75],[235,-75],[236,-79],[236,-82],[247,-76.5],[255,-82],[264,-83.3],[249,-90.5],[260,-89],[245,-99],[214,-83.3],[283,-84.9],[284,-80.8],[288,-86.3],[294,-86.3],[300,-96.2],[218,-139.7]];

const mpkData = [...mpkLeft, ...mpkMiddle, ...mpkCentre, ...mpkRight];
const sacData = [
  ...sacLeftUpper, ...sacLeftLower, ...sacMiddleUpper, ...sacMiddleBand, ...sacMiddleLower,
  ...sacCentreUpper, ...sacCentreBand, ...sacCentreLower, ...sacRightUpper, ...sacRightBand,
  ...sacRightLower, ...sacFarRightUpper, ...sacFarRightBand, ...sacFarRightLower,
  ...sacBottomLeft, ...sacLowLeft, ...sacLowCentre, ...sacLowRight,
];

const LABEL_FONT = '"DejaVu Sans Condensed", "DejaVu Sans", sans-serif';
const BOLD = '"DejaVu Sans", sans-serif';
const GREEN = "#99CC00";
const BLUE = "#3366FF";
const ORANGE = "#FF6600";
const MPK_SYMBOL = "path://M2,0H28A2,2 0 0 1 30,2V5A2,2 0 0 1 28,7H2A2,2 0 0 1 0,5V2A2,2 0 0 1 2,0Z";
const SAC_SYMBOL = "path://M2,0H9.5A2,2 0 0 1 11.5,2V4.5A2,2 0 0 1 9.5,6.5H2A2,2 0 0 1 0,4.5V2A2,2 0 0 1 2,0Z";

export default function App() {
  const ref = useRef<HTMLDivElement>(null);
  useEffect(() => {
    document.body.style.margin = "0";
    const chart = echarts.init(ref.current!, null, { renderer: "svg" });
    chart.setOption({
      animation: false,
      backgroundColor: "#fff",
      grid: { left: 225, right: 52.5, top: 84, bottom: 245.5, containLabel: false, outerBoundsMode: "none" },
      xAxis: {
        type: "value", min: 5, max: 305,
        name: "Days in milk", nameLocation: "middle", nameGap: 200,
        nameTextStyle: { fontFamily: BOLD, fontWeight: "bold", fontSize: 36, color: "#000" },
        splitLine: { show: false },
        axisLine: { onZero: false, lineStyle: { color: "#555", width: 1 } },
        axisTick: { show: true, length: 19, customValues: xTicks, lineStyle: { color: "#000", width: 1 } },
        axisLabel: { customValues: xTicks, margin: 72, fontFamily: LABEL_FONT, fontSize: 44, color: "#000", hideOverlap: false },
      },
      yAxis: {
        type: "value", min: -150, max: 150, interval: 50,
        name: "Energy Balance (MJ/d)", nameLocation: "middle", nameGap: 163, nameRotate: 90,
        nameTextStyle: { fontFamily: BOLD, fontWeight: "bold", fontSize: 44, color: "#000" },
        splitLine: { show: false },
        axisLine: { onZero: false, lineStyle: { color: "#000", width: 1 } },
        axisTick: { show: true, length: 15, lineStyle: { color: "#000", width: 1 } },
        axisLabel: { margin: 40, fontFamily: LABEL_FONT, fontSize: 44, color: "#000" },
      },
      series: [
        { name: MPK_NAME, type: "scatter", data: mpkData, symbol: MPK_SYMBOL, symbolSize: [30, 7], itemStyle: { color: GREEN, opacity: 1 }, z: 2, silent: true, clip: false },
        { name: SAC_NAME, type: "scatter", data: sacData, symbol: SAC_SYMBOL, symbolSize: [11.5, 6.5], itemStyle: { color: BLUE, opacity: 1 }, z: 3, silent: true, clip: false },
      ],
      graphic: [
        { type: "rect", z: 100, shape: { x: 207.75, y: 144.75, width: 1437.5, height: 241.5 }, style: { fill: "none", stroke: ORANGE, lineWidth: 9.5 } },
        { type: "rect", z: 100, shape: { x: 1361.5, y: 8.5, width: 430, height: 115 }, style: { fill: "#fff", stroke: "#222", lineWidth: 1 } },
        { type: "rect", z: 101, shape: { x: 1389, y: 64, width: 29, height: 6.5, r: 2 }, style: { fill: GREEN } },
        { type: "rect", z: 101, shape: { x: 1611, y: 64, width: 11, height: 6, r: 2 }, style: { fill: BLUE } },
        { type: "text", z: 101, x: 1445, y: 74, scaleY: 1.25, style: { text: MPK_NAME, fontFamily: LABEL_FONT, fontSize: 60, fill: "#000", textVerticalAlign: "middle" } },
        { type: "text", z: 101, x: 1653, y: 74, scaleX: 1.07, scaleY: 1.25, style: { text: SAC_NAME, fontFamily: LABEL_FONT, fontSize: 60, fill: "#000", textVerticalAlign: "middle" } },
        { type: "polygon", z: 100, shape: { points: [[54, 984], [77, 963], [89, 974], [93, 971], [102, 979], [102, 984]] }, style: { fill: "#0050A8" } },
        { type: "polygon", z: 101, shape: { points: [[92, 984], [106, 971], [117, 982], [129, 971], [141, 981], [144, 980], [148, 984]] }, style: { fill: "#0A8A10" } },
        { type: "polygon", z: 102, shape: { points: [[84, 984], [90, 978], [93, 980], [89, 984]] }, style: { fill: "#E8C020" } },
      ],
    });
    return () => chart.dispose();
  }, []);
  return <div ref={ref} style={{ width: 1829, height: 984, position: "absolute", left: 0, top: 0, background: "#fff" }} />;
}
